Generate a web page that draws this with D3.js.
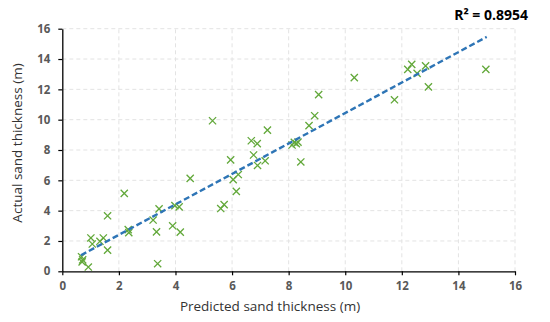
<!DOCTYPE html>
<html>
<head>
<meta charset="utf-8">
<script src="https://cdn.jsdelivr.net/npm/d3@7"></script>
<style>
html,body{margin:0;padding:0;background:#fff;}
svg{display:block;}
</style>
</head>
<body>
<svg id="chart" width="550" height="322"></svg>
<script>
// Data
const predicted = [0.68,0.72,0.70,0.92,1.01,1.06,1.33,1.45,1.60,1.60,2.19,2.33,2.35,3.21,3.33,3.42,3.37,3.90,3.98,4.13,4.17,4.52,5.31,5.60,5.72,5.95,6.04,6.15,6.22,6.68,6.76,6.89,6.90,7.17,7.25,8.12,8.20,8.27,8.33,8.43,8.72,8.92,9.06,10.32,11.74,12.21,12.35,12.54,12.84,12.94,14.97];
const actual    = [0.96,0.75,0.62,0.28,2.20,1.80,1.98,2.20,3.66,1.40,5.14,2.75,2.55,3.38,2.60,4.12,0.50,3.00,4.33,4.25,2.58,6.13,9.93,4.14,4.40,7.35,6.05,5.27,6.38,8.61,7.67,8.42,6.98,7.29,9.31,8.33,8.50,8.42,8.52,7.21,9.61,10.26,11.65,12.77,11.31,13.32,13.65,13.05,13.55,12.16,13.32];
const xTicks = [0,2,4,6,8,10,12,14,16];
const yTicks = [0,2,4,6,8,10,12,14,16];
const trendX = [0.66, 15.0];
const trendY = [1.06, 15.46];
const r2Label = "R² = 0.8954";
const xTitle = "Predicted sand thickness (m)";
const yTitle = "Actual sand thickness (m)";

const svg = d3.select("#chart");
const x = d3.scaleLinear().domain([0,16]).range([62.3,515]);
const y = d3.scaleLinear().domain([0,16]).range([271.3,28.7]);

// gridlines
const grid = svg.append("g");
grid.selectAll("line.h").data(yTicks.filter(d=>d>0)).join("line")
  .attr("x1",x(0)).attr("x2",x(16)).attr("y1",d=>y(d)).attr("y2",d=>y(d))
  .attr("stroke","#e3e3e3").attr("stroke-width",1).attr("stroke-dasharray","4,3");
grid.selectAll("line.v").data(xTicks.filter(d=>d>0)).join("line")
  .attr("y1",y(0)).attr("y2",y(16)).attr("x1",d=>x(d)).attr("x2",d=>x(d))
  .attr("stroke","#e3e3e3").attr("stroke-width",1).attr("stroke-dasharray","4,3");

// axes
const xAxis = svg.append("g").attr("transform",`translate(0,${y(0)})`)
  .call(d3.axisBottom(x).tickValues(xTicks).tickSize(4).tickPadding(7).tickSizeOuter(0));
const yAxis = svg.append("g").attr("transform",`translate(${x(0)},0)`)
  .call(d3.axisLeft(y).tickValues(yTicks).tickSize(4).tickPadding(8).tickSizeOuter(0));
[xAxis,yAxis].forEach(a=>{
  a.select(".domain").attr("stroke","#000").attr("stroke-width",1.3);
  a.selectAll(".tick line").attr("stroke","#000").attr("stroke-width",1.2);
  a.selectAll(".tick text").attr("fill","#595959").style("font-family","'Open Sans',sans-serif")
    .style("font-size","11.5px").style("font-weight","bold");
});

// markers (x shapes)
const s = 3.6;
svg.append("g").selectAll("path").data(predicted.map((p,i)=>[p,actual[i]])).join("path")
  .attr("d",d=>{const cx=x(d[0]),cy=y(d[1]);return `M${cx-s},${cy-s}L${cx+s},${cy+s}M${cx-s},${cy+s}L${cx+s},${cy-s}`;})
  .attr("stroke","#62a83a").attr("stroke-width",1.3).attr("fill","none");

// trendline
svg.append("line")
  .attr("x1",x(trendX[0])).attr("y1",y(trendY[0])).attr("x2",x(trendX[1])).attr("y2",y(trendY[1]))
  .attr("stroke","#2e75b6").attr("stroke-width",2.4).attr("stroke-dasharray","6,3");

// R² label
svg.append("text").attr("x",528).attr("y",20).attr("text-anchor","end")
  .style("font-family","'Open Sans',sans-serif").style("font-size","14px").style("font-weight","bold")
  .attr("fill","#000").text(r2Label);

// axis titles
svg.append("text").attr("x",270).attr("y",311).attr("text-anchor","middle")
  .style("font-family","'Open Sans',sans-serif").style("font-size","13.5px").attr("fill","#333")
  .text(xTitle);
svg.append("text").attr("transform","translate(22,143) rotate(-90)").attr("text-anchor","middle")
  .style("font-family","'Open Sans',sans-serif").style("font-size","13.5px").attr("fill","#333")
  .text(yTitle);
</script>
</body>
</html>
